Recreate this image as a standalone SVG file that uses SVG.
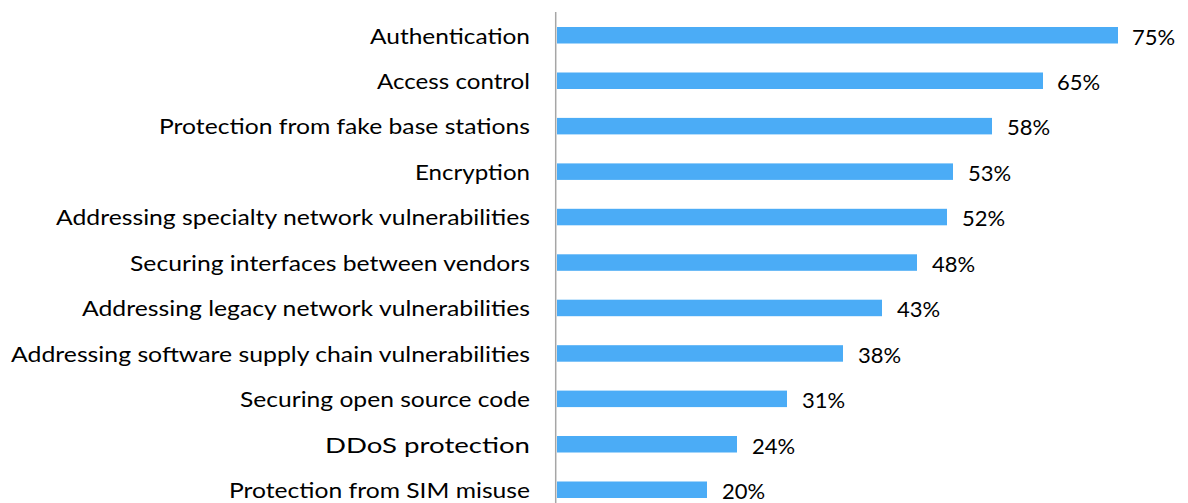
<svg xmlns="http://www.w3.org/2000/svg" width="1188" height="503" viewBox="0 0 1188 503">
<style>
.lbl{font-family:Lato,"Open Sans","Liberation Sans",sans-serif;font-size:22px;fill:#000;text-anchor:end}
.val{font-family:Lato,"Open Sans","Liberation Sans",sans-serif;font-size:22px;fill:#000}
.bar{fill:#4BACF6}
</style>
<rect width="1188" height="503" fill="#fff"/>
<g id="bars">
<rect class="bar" x="557" y="27" width="561" height="16.5"/>
<rect class="bar" x="557" y="72.5" width="486" height="16.5"/>
<rect class="bar" x="557" y="117.9" width="435" height="16.5"/>
<rect class="bar" x="557" y="163.4" width="396" height="16.5"/>
<rect class="bar" x="557" y="208.8" width="390" height="16.5"/>
<rect class="bar" x="557" y="254.3" width="360" height="16.5"/>
<rect class="bar" x="557" y="299.7" width="325" height="16.5"/>
<rect class="bar" x="557" y="345.2" width="286" height="16.5"/>
<rect class="bar" x="557" y="390.6" width="230" height="16.5"/>
<rect class="bar" x="557" y="436" width="180" height="16.5"/>
<rect class="bar" x="557" y="481.5" width="150" height="16.5"/>
</g>
<g id="axis"><line x1="555.7" y1="12" x2="555.7" y2="503" stroke="#A6A6A6" stroke-width="1.5"/></g>
<g id="labels">
<text class="lbl" x="530" y="43.5" textLength="160" lengthAdjust="spacingAndGlyphs">Authentication</text>
<text class="lbl" x="530" y="89" textLength="153" lengthAdjust="spacingAndGlyphs">Access control</text>
<text class="lbl" x="530" y="134.4" textLength="371" lengthAdjust="spacingAndGlyphs">Protection from fake base stations</text>
<text class="lbl" x="530" y="179.9" textLength="115" lengthAdjust="spacingAndGlyphs">Encryption</text>
<text class="lbl" x="530" y="225.3" textLength="474" lengthAdjust="spacingAndGlyphs">Addressing specialty network vulnerabilities</text>
<text class="lbl" x="530" y="270.8" textLength="400" lengthAdjust="spacingAndGlyphs">Securing interfaces between vendors</text>
<text class="lbl" x="530" y="316.2" textLength="448" lengthAdjust="spacingAndGlyphs">Addressing legacy network vulnerabilities</text>
<text class="lbl" x="530" y="361.7" textLength="519" lengthAdjust="spacingAndGlyphs">Addressing software supply chain vulnerabilities</text>
<text class="lbl" x="530" y="407.1" textLength="290" lengthAdjust="spacingAndGlyphs">Securing open source code</text>
<text class="lbl" x="530" y="452.5" textLength="205" lengthAdjust="spacingAndGlyphs">DDoS protection</text>
<text class="lbl" x="530" y="498" textLength="301" lengthAdjust="spacingAndGlyphs">Protection from SIM misuse</text>
</g>
<g id="values">
<text class="val" x="1132" y="44.5">75%</text>
<text class="val" x="1057" y="90">65%</text>
<text class="val" x="1007" y="135.4">58%</text>
<text class="val" x="968" y="180.9">53%</text>
<text class="val" x="962" y="226.3">52%</text>
<text class="val" x="932" y="271.8">48%</text>
<text class="val" x="897" y="317.2">43%</text>
<text class="val" x="858" y="362.7">38%</text>
<text class="val" x="802" y="408.1">31%</text>
<text class="val" x="752" y="453.5">24%</text>
<text class="val" x="722" y="499">20%</text>
</g>
</svg>
